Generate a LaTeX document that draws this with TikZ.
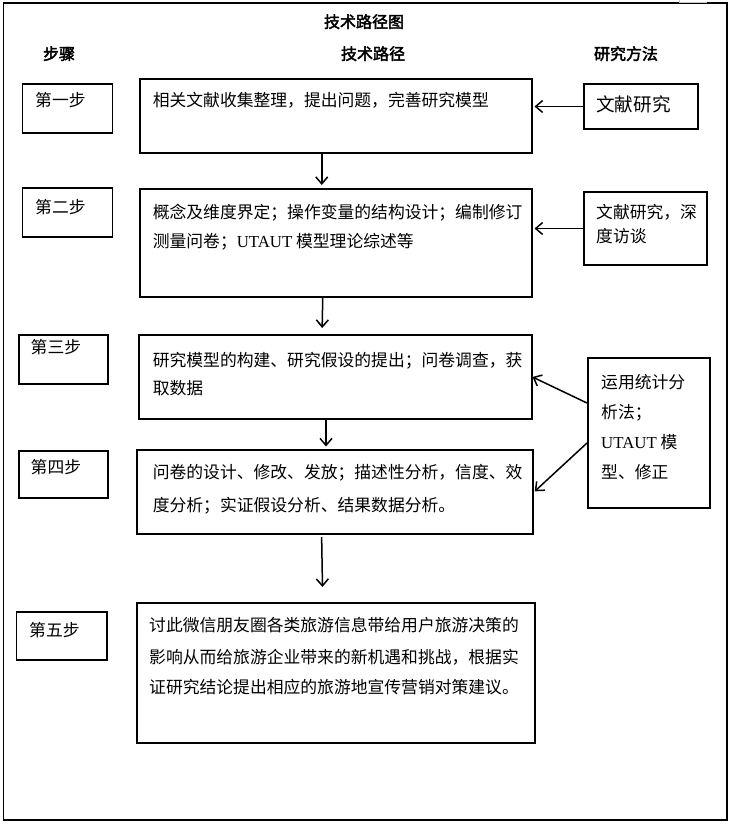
\documentclass[tikz,border=0pt]{standalone}
\usepackage{fontspec}
\setmainfont{Noto Sans CJK SC}[AutoFakeBold=2.5]
\newfontfamily\latf{Liberation Serif}
\usetikzlibrary{arrows.meta,fit}
\begin{document}
\begin{tikzpicture}[x=1pt,y=-1pt,
  box/.style={draw,line width=2pt,inner sep=0pt},
  stepbox/.style={draw,line width=1.8pt,inner sep=0pt},
  frame/.style={draw,line width=1.2pt},
  txt/.style={anchor=west,inner sep=0pt,font=\fontsize{16.8}{20}\selectfont,text height=13.4pt,text depth=1.4pt},
  mtxt/.style={txt,font=\fontsize{18.6}{22}\selectfont,text height=14.9pt,text depth=1.5pt},
  head/.style={anchor=center,inner sep=0pt,font=\fontsize{16}{20}\selectfont\bfseries,text height=12.8pt,text depth=1.3pt},
  arr/.style={line width=1.5pt,-{Straight Barb[length=7pt,width=12pt]}}]
\useasboundingbox (0,0) rectangle (736,827);
% outer frame
\draw[frame] (3.5,3) rectangle (727,820);
\draw[gray!45,line width=0.8pt] (679,0) -- (679,2.5) -- (707,2.5);
% titles
\node[head] (title) at (364,22) {技术路径图};
\node[head] (h1) at (59,54) {步骤};
\node[head] (h2) at (373,54) {技术路径};
\node[head] (h3) at (626,54) {研究方法};
% step boxes
\node[stepbox,fit={(22.5,84) (112.5,133)}] (s1) {};
\node[stepbox,fit={(22.5,188) (112.5,237)}] (s2) {};
\node[stepbox,fit={(19,335) (108,384)}] (s3) {};
\node[stepbox,fit={(19,451) (108,498)}] (s4) {};
\node[stepbox,fit={(16.5,612) (107,660)}] (s5) {};
\node[txt] (s1t) at (35,100) {第一步};
\node[txt] (s2t) at (35,207) {第二步};
\node[txt] (s3t) at (30.5,347) {第三步};
\node[txt] (s4t) at (30.5,467) {第四步};
\node[txt] (s5t) at (29,630) {第五步};
% main boxes
\node[box,fit={(139.5,79) (532,153)}] (b1) {};
\node[box,fit={(139.5,189) (532,297)}] (b2) {};
\node[box,fit={(138.5,335) (531.5,419)}] (b3) {};
\node[box,fit={(137,450) (533,534)}] (b4) {};
\node[box,fit={(136.5,603) (535,743)}] (b5) {};
\node[txt] (b1a) at (152.6,100) {相关文献收集整理，提出问题，完善研究模型};
\node[txt] (b2a) at (152.6,212) {概念及维度界定；操作变量的结构设计；编制修订};
\node[txt] (b2b) at (152.6,241) {测量问卷；{\latf UTAUT} 模型理论综述等};
\node[txt] (b3a) at (152.6,360) {研究模型的构建、研究假设的提出；问卷调查，获};
\node[txt] (b3b) at (152.6,388) {取数据};
\node[txt] (b4a) at (152.6,472) {问卷的设计、修改、发放；描述性分析，信度、效};
\node[txt] (b4b) at (152.6,505) {度分析；实证假设分析、结果数据分析。};
\node[txt] (b5a) at (149,625) {讨此微信朋友圈各类旅游信息带给用户旅游决策的};
\node[txt] (b5b) at (149,657) {影响从而给旅游企业带来的新机遇和挑战，根据实};
\node[txt] (b5c) at (149,687) {证研究结论提出相应的旅游地宣传营销对策建议。};
% method boxes
\node[box,fit={(584,84) (698,129)}] (m1) {};
\node[box,fit={(584,192) (707,265)}] (m2) {};
\node[box,fit={(588,358) (710,508)}] (m3) {};
\node[mtxt] (m1a) at (596,105) {文献研究};
\node[txt] (m2a) at (596,212) {文献研究，深};
\node[txt] (m2b) at (596,236) {度访谈};
\node[txt] (m3a) at (601,382) {运用统计分};
\node[txt] (m3b) at (601,412) {析法；};
\node[txt] (m3c) at (601,442) {{\latf UTAUT} 模};
\node[txt] (m3d) at (601,472) {型、修正};
% vertical arrows
\draw[arr,shorten >=3pt] ([xshift=-14pt]b1.south) -- ([xshift=-14pt]b2.north);
\draw[arr,shorten >=6pt] ([xshift=-13pt]b2.south) -- ([xshift=-13pt]b3.north);
\draw[arr,shorten >=2.5pt] ([xshift=-9pt]b3.south) -- ([xshift=-9pt]b4.north);
\draw[arr,shorten <=2pt,shorten >=15pt] ([xshift=-13.4pt]b4.south) -- ([xshift=-13pt]b5.north);
% method arrows
\draw[arr,shorten >=1.5pt] (m1.west) -- (m1.west -| b1.east);
\draw[arr,shorten >=1.5pt] (m2.west) -- (m2.west -| b2.east);
\draw[arr] ([yshift=30pt]m3.west) -- (b3.east);
\draw[arr,shorten >=1pt] ([yshift=-10pt]m3.west) -- (b4.east);
\end{tikzpicture}
\end{document}
